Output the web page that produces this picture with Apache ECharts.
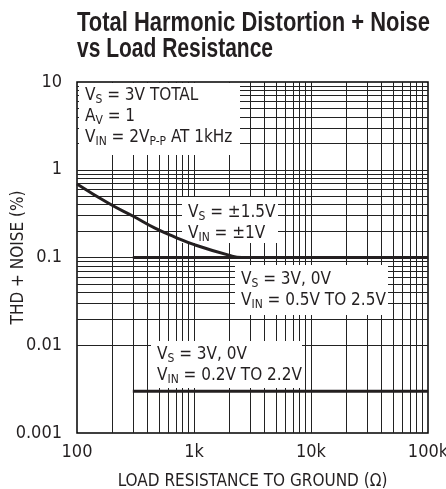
<!DOCTYPE html>
<html><head><meta charset="utf-8">
<script src="https://cdn.jsdelivr.net/npm/echarts@6/dist/echarts.min.js"></script>
<style>html,body{margin:0;padding:0;background:#fff}#c{width:446px;height:489px}</style>
</head><body><div id="c"></div>
<script>
const FONT = '"Liberation Sans Narrow","DejaVu Sans Condensed",Arial,sans-serif';
const TITLE_FONT = 'bold 28px "Liberation Sans",Arial,sans-serif';
const INK = '#231f20';

const titleLines = ['Total Harmonic Distortion + Noise', 'vs Load Resistance'];

const xTickValues = [100, 1000, 10000, 100000];
const xTickLabels = ['100', '1k', '10k', '100k'];
const yTickValues = [0.001, 0.01, 0.1, 1, 10];
const yTickLabels = ['0.001', '0.01', '0.1', '1', '10'];

const xGridValues = [200, 300, 400, 500, 600, 700, 800, 900, 1000,
  2000, 3000, 4000, 5000, 6000, 7000, 8000, 9000, 10000,
  20000, 30000, 40000, 50000, 60000, 70000, 80000, 90000];
const yGridValues = [0.002, 0.003, 0.004, 0.005, 0.006, 0.007, 0.008, 0.009, 0.01,
  0.02, 0.03, 0.04, 0.05, 0.06, 0.07, 0.08, 0.09, 0.1,
  0.2, 0.3, 0.4, 0.5, 0.6, 0.7, 0.8, 0.9, 1,
  2, 3, 4, 5, 6, 7, 8, 9];

// VS = ±1.5V, VIN = ±1V
const splitR = [100, 191, 300, 464, 688, 1020, 1950, 2570, 3000];
const splitTHD = [0.69, 0.407, 0.297, 0.216, 0.171, 0.139, 0.107, 0.1, 0.1];
// VS = 3V, 0V, VIN = 0.5V TO 2.5V
const singleAR = [300, 100000];
const singleATHD = [0.1, 0.1];
// VS = 3V, 0V, VIN = 0.2V TO 2.2V
const singleBR = [300, 100000];
const singleBTHD = [0.003, 0.003];

function zip(a, b) { return a.map((v, i) => [v, b[i]]); }
function lookup(vals, labels, v) {
  for (let i = 0; i < vals.length; i++) {
    if (Math.abs(Math.log10(v) - Math.log10(vals[i])) < 1e-6) return labels[i];
  }
  return '';
}
function fitScale(text, font, target) {
  const ctx = document.createElement('canvas').getContext('2d');
  ctx.font = font;
  return target / ctx.measureText(text).width;
}
const titleScale1 = fitScale(titleLines[0], TITLE_FONT, 353);
const titleScale2 = fitScale(titleLines[1], TITLE_FONT, 196);

const rich = {
  n: { fontSize: 17, fontFamily: FONT, lineHeight: 21, fill: INK },
  s: { fontSize: 12, fontFamily: FONT, lineHeight: 6, verticalAlign: 'bottom', fill: INK }
};
function note(x, y, text) {
  return { type: 'text', x: x, y: y, z: 20, style: { text: text, rich: rich, fill: INK, verticalAlign: 'top' } };
}
function box(x, y, w, h) {
  return { type: 'rect', z: 10, shape: { x: x, y: y, width: w, height: h }, style: { fill: '#fff' } };
}
function titleLine(text, y, scale) {
  return { type: 'text', x: 77, y: y, z: 20, scaleX: scale, scaleY: 1,
    style: { text: text, font: TITLE_FONT, fill: INK, lineHeight: 26, verticalAlign: 'top' } };
}

const chart = echarts.init(document.getElementById('c'));
chart.setOption({
  animation: false,
  grid: { left: 77, right: 18, top: 82, bottom: 56, show: true, borderColor: '#000', borderWidth: 1.5,
    backgroundColor: 'transparent', outerBoundsMode: 'none', containLabel: false },
  xAxis: {
    type: 'log', logBase: 10, min: 100, max: 100000,
    axisLine: { show: false }, axisTick: { show: false }, splitLine: { show: false },
    axisLabel: { fontSize: 18, fontFamily: FONT, color: INK, margin: 10,
      formatter: v => lookup(xTickValues, xTickLabels, v) },
    name: 'LOAD RESISTANCE TO GROUND (Ω)', nameLocation: 'middle', nameGap: 40, nameMoveOverlap: false,
    nameTextStyle: { fontSize: 17, fontFamily: FONT, color: INK }
  },
  yAxis: {
    type: 'log', logBase: 10, min: 0.001, max: 10,
    axisLine: { show: false }, axisTick: { show: false }, splitLine: { show: false },
    axisLabel: { fontSize: 18, fontFamily: FONT, color: INK, margin: 15,
      formatter: v => lookup(yTickValues, yTickLabels, v) },
    name: 'THD + NOISE (%)', nameLocation: 'middle', nameGap: 50, nameRotate: 90, nameMoveOverlap: false,
    nameTextStyle: { fontSize: 17, fontFamily: FONT, color: INK }
  },
  graphic: [
    titleLine(titleLines[0], 10.5, titleScale1),
    titleLine(titleLines[1], 36.5, titleScale2),
    box(79, 83, 161, 72),
    note(85, 85, '{n|V}{s|S}{n| = 3V TOTAL}\n{n|A}{s|V}{n| = 1}\n{n|V}{s|IN}{n| = 2V}{s|P-P}{n| AT 1kHz}'),
    box(182, 197, 96, 46),
    note(188, 202, '{n|V}{s|S}{n| = ±1.5V}\n{n|V}{s|IN}{n| = ±1V}'),
    box(235, 265, 153, 50),
    note(241, 269, '{n|V}{s|S}{n| = 3V, 0V}\n{n|V}{s|IN}{n| = 0.5V TO 2.5V}'),
    box(151, 341, 151, 47),
    note(157, 344, '{n|V}{s|S}{n| = 3V, 0V}\n{n|V}{s|IN}{n| = 0.2V TO 2.2V}')
  ],
  series: [
    { type: 'line', data: [], z: 1,
      markLine: { silent: true, z: 1, symbol: ['none', 'none'], label: { show: false }, animation: false,
        lineStyle: { color: '#222', width: 1, type: 'solid' },
        emphasis: { disabled: true },
        data: xGridValues.map(v => ({ xAxis: v })).concat(yGridValues.map(v => ({ yAxis: v }))) } },
    { type: 'line', z: 30, data: zip(splitR, splitTHD), smooth: 0.5, showSymbol: false,
      lineStyle: { color: INK, width: 3 } },
    { type: 'line', z: 30, data: zip(singleAR, singleATHD), showSymbol: false,
      lineStyle: { color: INK, width: 3 } },
    { type: 'line', z: 30, data: zip(singleBR, singleBTHD), showSymbol: false,
      lineStyle: { color: INK, width: 3 } }
  ]
});
</script></body></html>
